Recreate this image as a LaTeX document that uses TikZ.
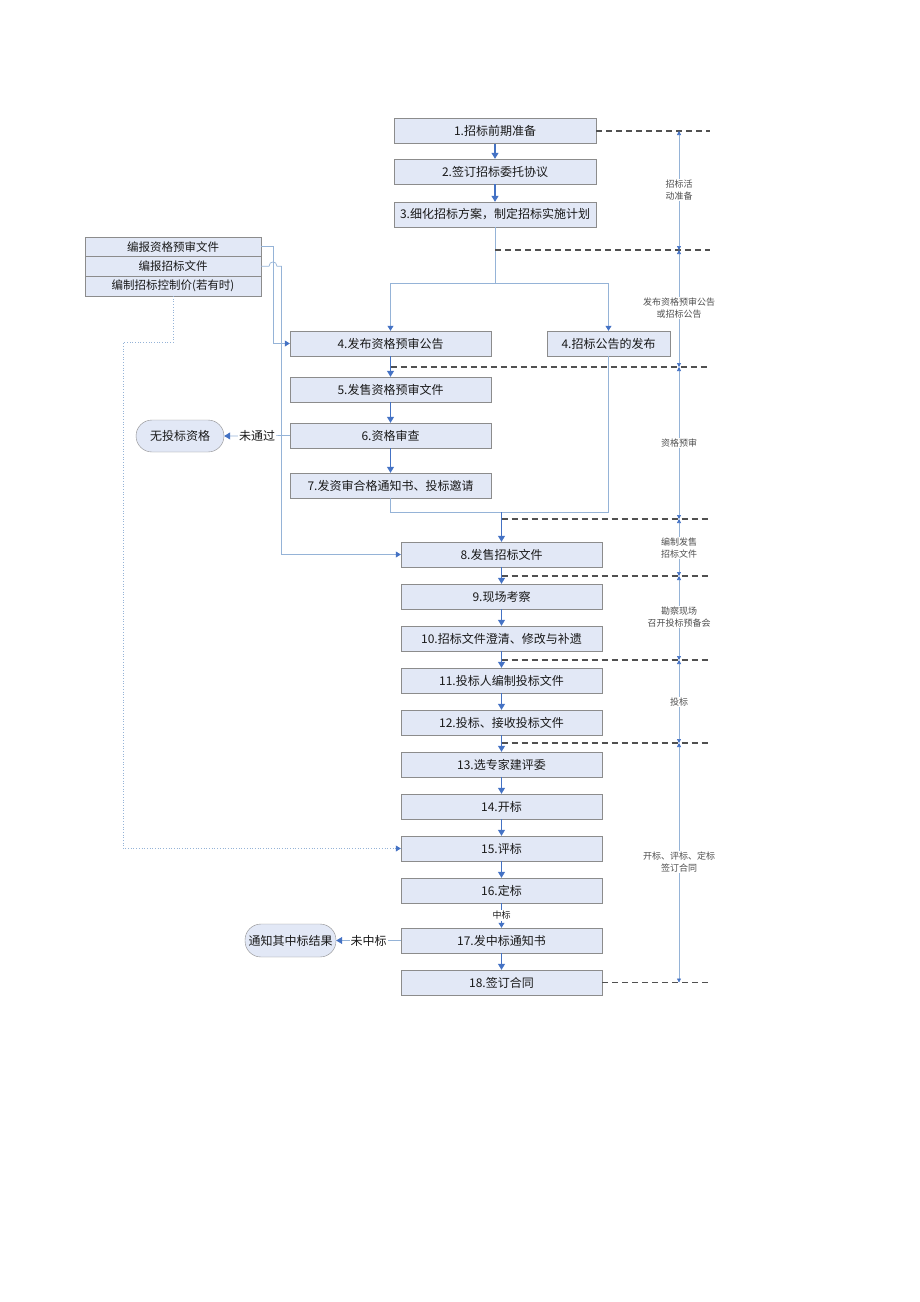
\documentclass[tikz,border=0pt]{standalone}
\usepackage{fontspec}
\setmainfont{Noto Sans CJK SC}
\usetikzlibrary{arrows.meta}
\definecolor{ablue}{RGB}{68,114,196}
\definecolor{lblue}{RGB}{149,179,215}
\definecolor{bfill}{RGB}{226,232,246}
\definecolor{bdraw}{RGB}{140,140,140}
\definecolor{dgray}{RGB}{80,80,80}
\begin{document}
\begin{tikzpicture}[x=1pt,y=-1pt,
  box/.style={draw=bdraw,fill=bfill,minimum height=25pt,minimum width=201pt,inner sep=0pt,font=\fontsize{12}{14}\selectfont,text=black!90},
  lbox/.style={draw=bdraw,fill=bfill,minimum height=19.7pt,minimum width=176pt,inner sep=0pt,font=\fontsize{11.5}{13}\selectfont,text=black!90},
  rbox/.style={draw=bdraw,fill=bfill,rounded corners=16pt,minimum height=32pt,inner sep=0pt,font=\fontsize{12}{14}\selectfont,text=black!90},
  arr/.style={draw=ablue,line width=1.1pt,-{Triangle[width=7pt,length=6pt]}},
  thn/.style={draw=lblue,line width=0.7pt},
  thnarr/.style={draw=lblue,line width=0.7pt,-{Triangle[width=6pt,length=5pt,color=ablue]}},
  dotarr/.style={draw=lblue,line width=0.7pt,dotted,-{Triangle[width=6pt,length=5pt,color=ablue]}},
  tl/.style={draw=lblue,line width=0.6pt,{Triangle[width=4pt,length=4pt,color=ablue]}-{Triangle[width=4pt,length=4pt,color=ablue]}},
  dsh/.style={draw=dgray,line width=1.3pt,dash pattern=on 6pt off 4pt},
  tlab/.style={fill=white,font=\fontsize{9}{11.5}\selectfont,text=dgray,align=center,inner sep=1pt},
  elab/.style={fill=white,font=\fontsize{12}{14}\selectfont,text=black!90,inner sep=1pt}
]
\useasboundingbox (0,0) rectangle (920,1302);

% main boxes
\node[box,minimum width=202pt] (b1) at (495,131) {1.招标前期准备};
\node[box,minimum width=202pt] (b2) at (495,171.5) {2.签订招标委托协议};
\node[box,minimum width=202pt] (b3) at (495,214.5) {3.细化招标方案，制定招标实施计划};
\node[box] (b4a) at (390.5,343.5) {4.发布资格预审公告};
\node[box,minimum width=123pt] (b4b) at (608.5,343.5) {4.招标公告的发布};
\node[box] (b5) at (390.5,389.5) {5.发售资格预审文件};
\node[box] (b6) at (390.5,435.5) {6.资格审查};
\node[box] (b7) at (390.5,485.5) {7.发资审合格通知书、投标邀请};
\node[box] (b8) at (501.5,554.5) {8.发售招标文件};
\node[box] (b9) at (501.5,596.5) {9.现场考察};
\node[box] (b10) at (501.5,638.5) {10.招标文件澄清、修改与补遗};
\node[box] (b11) at (501.5,680.5) {11.投标人编制投标文件};
\node[box] (b12) at (501.5,722.5) {12.投标、接收投标文件};
\node[box] (b13) at (501.5,764.5) {13.选专家建评委};
\node[box] (b14) at (501.5,806.5) {14.开标};
\node[box] (b15) at (501.5,848.5) {15.评标};
\node[box] (b16) at (501.5,890.5) {16.定标};
\node[box] (b17) at (501.5,940.5) {17.发中标通知书};
\node[box] (b18) at (501.5,982.5) {18.签订合同};

% left group
\node[lbox] (l1) at (173,246.6) {编报资格预审文件};
\node[lbox] (l2) at (173,266.3) {编报招标文件};
\node[lbox] (l3) at (173,286) {编制招标控制价(若有时)};

% rounded result nodes
\node[rbox,minimum width=88pt] (no1) at (180,436) {无投标资格};
\node[rbox,minimum width=91pt,minimum height=33pt] (no2) at (290.5,940.5) {通知其中标结果};

% main flow arrows
\draw[arr] (b1) -- (b2);
\draw[arr] (b2) -- (b3);
\coordinate (j1) at (495,283);
\coordinate (j1l) at (390.5,283);
\coordinate (j1r) at (608.5,283);
\draw[thn] (b3.south) -- (j1);
\draw[thn] (j1l) -- (j1r);
\draw[thnarr] (j1l) -- (b4a.north);
\draw[thnarr] (j1r) -- (b4b.north);
\draw[arr] (b4a) -- (b5);
\draw[arr] (b5) -- (b6);
\draw[arr] (b6) -- (b7);
\coordinate (j2l) at (390.5,512);
\coordinate (j2r) at (608.5,512);
\coordinate (j2) at (501.5,512);
\draw[thn] (b7.south) -- (j2l) -- (j2r) -- (b4b.south);
\draw[arr] (j2) -- (b8.north);
\draw[arr] (b8) -- (b9);
\draw[arr] (b9) -- (b10);
\draw[arr] (b10) -- (b11);
\draw[arr] (b11) -- (b12);
\draw[arr] (b12) -- (b13);
\draw[arr] (b13) -- (b14);
\draw[arr] (b14) -- (b15);
\draw[arr] (b15) -- (b16);
\draw[arr,line width=0.8pt,-{Triangle[width=6pt,length=5pt]}] (b16) -- node[elab,font=\fontsize{9}{10}\selectfont] {中标} (b17);
\draw[arr] (b17) -- (b18);

% side branches
\draw[thn,-{Triangle[width=7pt,length=6pt,color=ablue]}] (b6.west) -- node[elab,pos=0.5] {未通过} (no1.east);
\draw[thn,-{Triangle[width=7pt,length=6pt,color=ablue]}] (b17.west) -- node[elab,pos=0.5] {未中标} (no2.east);

% left connectors
\coordinate (c1) at (273,246.6);
\coordinate (c1b) at (273,343.5);
\draw[thnarr] (l1.east) -- (c1) -- (c1b) -- (b4a.west);
\coordinate (h1) at (269,266.3);
\coordinate (h2) at (277,266.3);
\coordinate (c2) at (281.5,266.3);
\coordinate (c2b) at (281.5,554.5);
\draw[thnarr] (l2.east) -- (h1) .. controls (269,260.5) and (277,260.5) .. (h2) -- (c2) -- (c2b) -- (b8.west);
\coordinate (c3) at (173,342.5);
\coordinate (c3b) at (123,342.5);
\coordinate (c3c) at (123,848.5);
\draw[dotarr] (l3.south) -- (c3) -- (c3b) -- (c3c) -- (b15.west);

% dashed stage separators
\coordinate (e1) at (710,131);
\coordinate (s2) at (495,250);   \coordinate (e2) at (710,250);
\coordinate (s3) at (390.5,367); \coordinate (e3) at (710,367);
\coordinate (s4) at (501.5,519); \coordinate (e4) at (710,519);
\coordinate (s5) at (501.5,576); \coordinate (e5) at (710,576);
\coordinate (s6) at (501.5,660); \coordinate (e6) at (710,660);
\coordinate (s7) at (501.5,743); \coordinate (e7) at (710,743);
\coordinate (e8) at (710,982.5);
\draw[dsh] (b1.east) -- (e1);
\draw[dsh] (s2) -- (e2);
\draw[dsh] (s3) -- (e3);
\draw[dsh] (s4) -- (e4);
\draw[dsh] (s5) -- (e5);
\draw[dsh] (s6) -- (e6);
\draw[dsh] (s7) -- (e7);
\draw[dsh] (b18.east) -- (e8);

% timeline
\coordinate (t1) at (679,131);
\coordinate (t2) at (679,250);
\coordinate (t3) at (679,367);
\coordinate (t4) at (679,519);
\coordinate (t5) at (679,576);
\coordinate (t6) at (679,660);
\coordinate (t7) at (679,743);
\coordinate (t8) at (679,982.5);
\draw[tl] (t1) -- (t2);
\draw[tl] (t2) -- (t3);
\draw[tl] (t3) -- (t4);
\draw[tl] (t4) -- (t5);
\draw[tl] (t5) -- (t6);
\draw[tl] (t6) -- (t7);
\draw[tl] (t7) -- (t8);

\node[tlab] (p1) at (679,190) {招标活\\动准备};
\node[tlab] (p2) at (679,308) {发布资格预审公告\\或招标公告};
\node[tlab] (p3) at (679,443) {资格预审};
\node[tlab] (p4) at (679,548) {编制发售\\招标文件};
\node[tlab] (p5) at (679,617) {勘察现场\\召开投标预备会};
\node[tlab] (p6) at (679,702) {投标};
\node[tlab] (p7) at (679,862) {开标、评标、定标\\签订合同};
\end{tikzpicture}
\end{document}
